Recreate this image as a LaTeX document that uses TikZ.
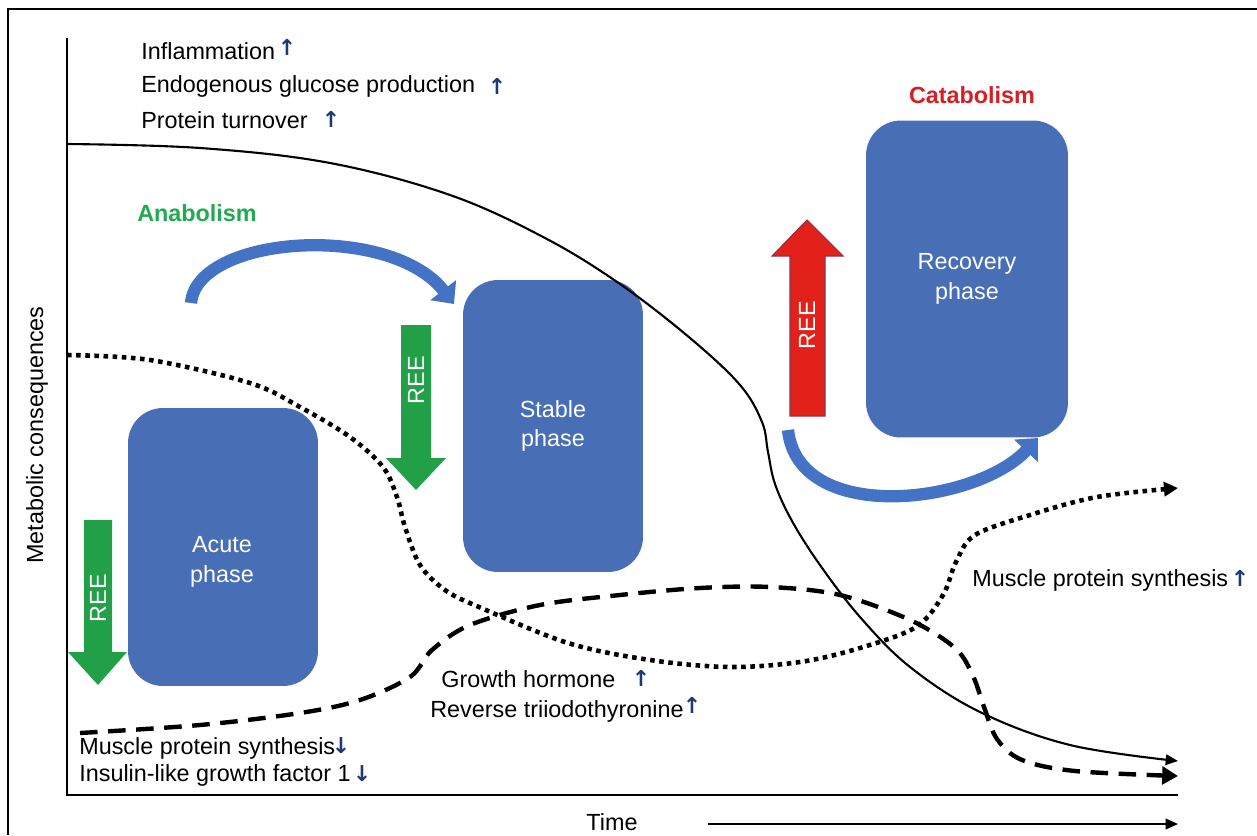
\documentclass[tikz,border=0pt]{standalone}
\usepackage{fontspec}
\setmainfont{Liberation Sans}
\newfontfamily\symfont{DejaVu Sans}
\usetikzlibrary{arrows.meta}
\definecolor{boxblue}{RGB}{72,110,182}
\definecolor{arcblue}{RGB}{68,114,196}
\definecolor{reegreen}{RGB}{33,160,72}
\definecolor{reered}{RGB}{226,34,26}
\definecolor{redline}{RGB}{140,50,80}
\definecolor{navy}{RGB}{31,56,120}
\definecolor{anagreen}{RGB}{34,170,80}
\definecolor{catared}{RGB}{214,30,36}
\tikzset{
  phase/.style={fill=boxblue, rounded corners=0.7cm, inner sep=0},
  phasetext/.style={text=white, align=center, inner sep=0},
  txt/.style={anchor=west, inner sep=0},
  arr/.style={text=navy, inner sep=0, font=\symfont\bfseries\fontsize{12.5}{12.5}\selectfont},
  reetext/.style={text=white, rotate=90, inner sep=0},
  band/.style={draw=arcblue, line width=7pt, line cap=butt, -{Triangle[length=10pt,width=18pt]}},
  solidcurve/.style={line width=1.2pt, -{Triangle[length=7pt,width=6pt]}},
  dashedcurve/.style={line width=2.5pt, dash pattern=on 10pt off 6pt, -{Triangle[length=9pt,width=10pt]}},
  dottedcurve/.style={line width=2.6pt, dash pattern=on 2.6pt off 2.6pt, -{Triangle[length=8pt,width=8pt]}},
}
\begin{document}
\begin{tikzpicture}[x=0.02cm, y=-0.02cm, font=\fontsize{13.3}{17}\selectfont]
\useasboundingbox (0,0) rectangle (1257,835);
% frame
\draw[line width=1.7pt, line join=miter] (8,835) -- (8,9) -- (1257,9);

% axes
\coordinate (ytop) at (67,38);
\coordinate (origin) at (67,795);
\coordinate (xend) at (1178,795);
\draw[line width=1.4pt] (ytop) -- (origin) -- (xend);
\node[rotate=90] (ylabel) at (37,435) {Metabolic consequences};
\node (time) at (612,822) {Time};
\coordinate (tstart) at (708,824);
\coordinate (tend) at (1178,824);
\draw[line width=1.2pt, -{Triangle[length=7pt,width=6pt]}] (tstart) -- (tend);

% phase boxes
\node[phase, minimum width=3.8cm, minimum height=5.56cm] (acute) at (223,547) {};
\node[phasetext] (acutetxt) at (222,562) {Acute\\phase};
\node[phase, minimum width=3.6cm, minimum height=5.84cm, phasetext] (stable) at (553,426) {Stable\\phase};
\node[phase, minimum width=4.04cm, minimum height=6.34cm, phasetext] (recovery) at (967,279) {Recovery\\phase};

% curves
\draw[solidcurve] plot[smooth, tension=0.6] coordinates {(67,144) (200,148) (330,163) (450,195) (545,238) (620,284) (690,338) (740,385) (762,422) (768,452) (775,484) (792,521) (820,565) (860,617) (910,667) (980,712) (1070,745) (1178,761)};
\draw[dashedcurve] plot[smooth, tension=0.55] coordinates {(80,733) (200,725) (300,713) (360,700) (410,677) (432,650) (470,625) (540,605) (620,595) (700,588) (770,587) (840,595) (910,620) (955,648) (973,676) (984,707) (997,739) (1022,760) (1075,771) (1178,776)};
\draw[dottedcurve] plot[smooth, tension=0.55] coordinates {(67,355) (150,360) (250,383) (300,407) (350,437) (383,467) (397,497) (405,527) (420,565) (445,590) (479,607) (568,643) (650,660) (729,667) (800,662) (860,648) (916,627) (943,595) (956,562) (975,535) (1030,515) (1097,497) (1178,488)};

% REE arrows
\fill[reegreen] (84,520) -- (112,520) -- (112,652) -- (127,652) -- (98,685) -- (68,652) -- (84,652) -- cycle;
\node[reetext] (ree1) at (98,598) {REE};
\fill[reegreen] (401,325) -- (431,325) -- (431,458) -- (446,458) -- (416,490) -- (386,458) -- (401,458) -- cycle;
\node[reetext] (ree2) at (416,380) {REE};
\filldraw[fill=reered, draw=redline, line width=0.6pt] (790,416) -- (825,416) -- (825,256) -- (843,256) -- (807,220) -- (772,256) -- (790,256) -- cycle;
\node[reetext] (ree3) at (807,325) {REE};

% curved arrows
\coordinate (b1s) at (191,303);
\coordinate (b1e) at (454,304);
\draw[band] (b1s) .. controls (197,235) and (390,222) .. (b1e);
\coordinate (b2s) at (788,430);
\coordinate (b2e) at (1038,438);
\draw[band] (b2s) .. controls (798,525) and (975,505) .. (b2e);

% titles
\node[text=anagreen, font=\bfseries\fontsize{13.3}{17}\selectfont] (anab) at (197,213) {Anabolism};
\node[text=catared, font=\bfseries\fontsize{13.3}{17}\selectfont] (catab) at (972,95) {Catabolism};

% text labels
\node[txt] (infl) at (141,51) {Inflammation};
\node[arr] (inflarr) at (287,47) {↑};
\node[txt] (egp) at (141,86) {Endogenous glucose production};
\node[arr] (egparr) at (497,86) {↑};
\node[txt] (pt) at (141,120) {Protein turnover};
\node[arr] (ptarr) at (331,119) {↑};

\node[txt] (gh) at (441,679) {Growth hormone};
\node[arr] (gharr) at (641,678) {↑};
\node[txt] (rt) at (430,711) {Reverse triiodothyronine};
\node[arr] (rtarr) at (692,705) {↑};

\node[txt] (mpsr) at (972,580) {Muscle protein synthesis};
\node[arr] (mpsrarr) at (1240,578) {↑};

\node[txt] (mpsl) at (79,748) {Muscle protein synthesis};
\node[arr] (mpslarr) at (341,746) {↓};
\node[txt] (igf) at (79,775) {Insulin-like growth factor 1};
\node[arr] (igfarr) at (362,774) {↓};
\end{tikzpicture}
\end{document}
